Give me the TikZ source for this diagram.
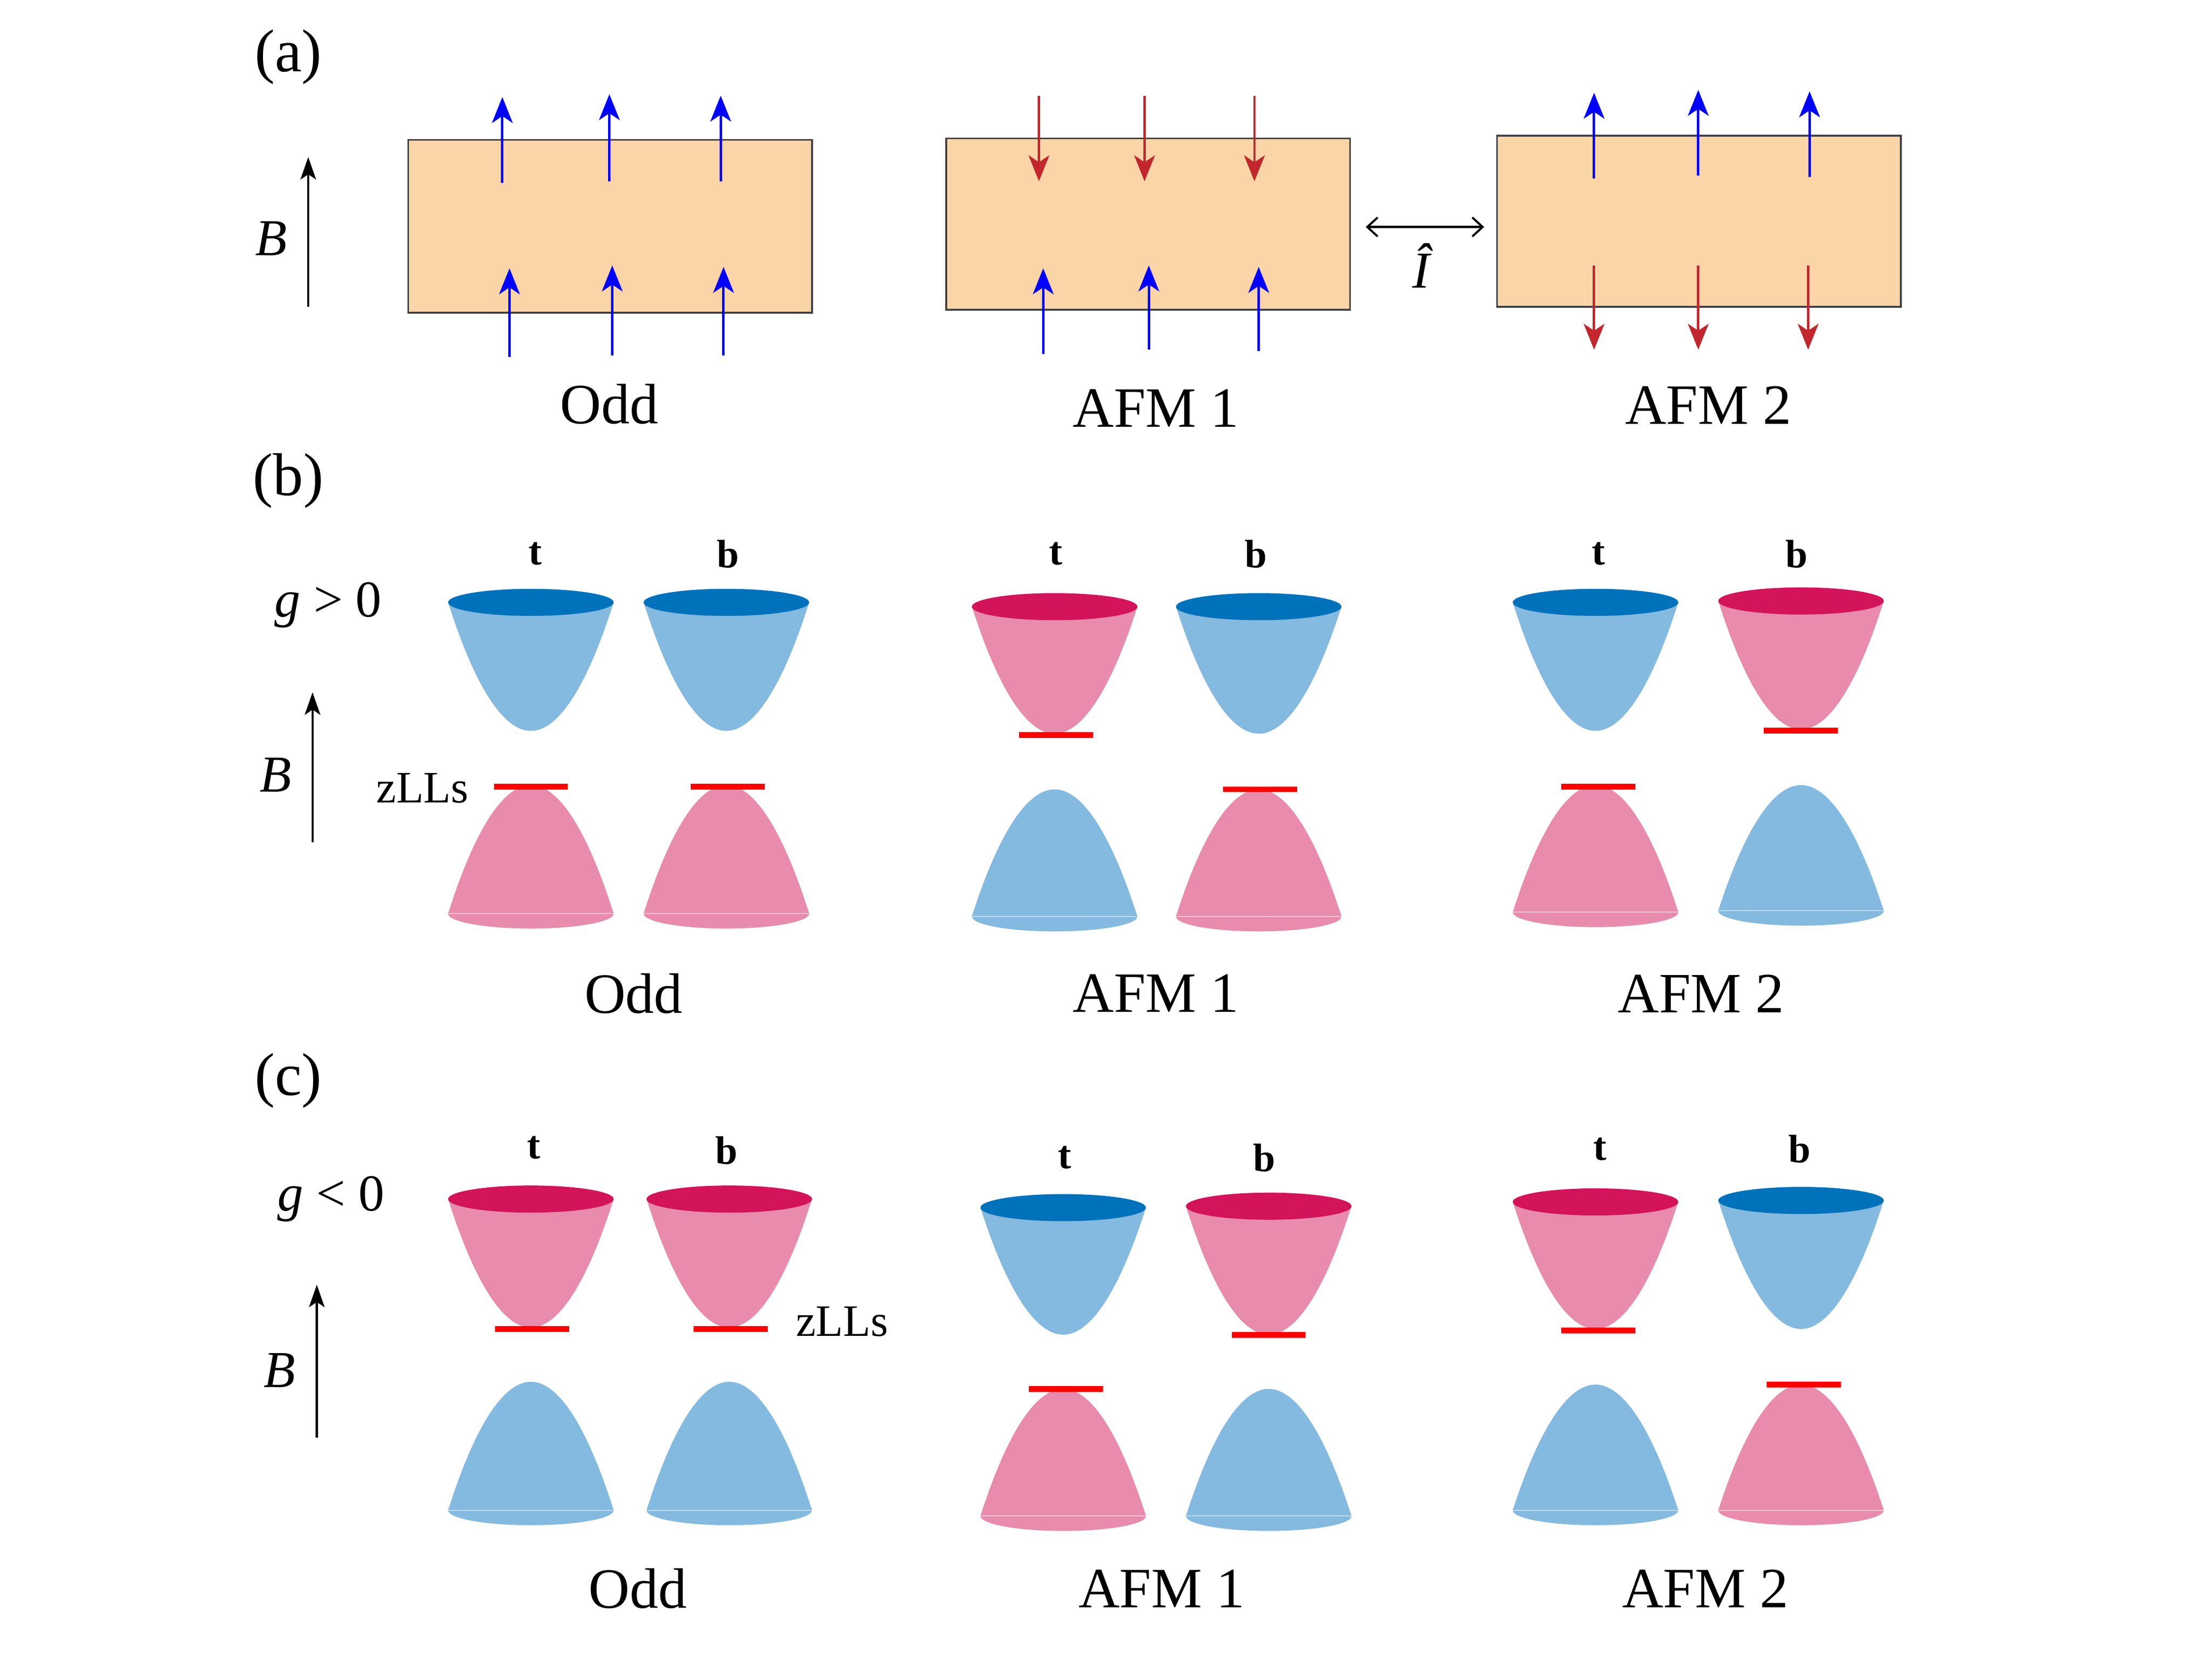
\documentclass[tikz,border=0pt]{standalone}
\usepackage{fontspec}
\setmainfont{Liberation Serif}
\usetikzlibrary{arrows.meta}
\definecolor{cbl}{RGB}{132,186,223}
\definecolor{cbd}{RGB}{0,114,188}
\definecolor{cpl}{RGB}{233,139,172}
\definecolor{cpd}{RGB}{211,20,90}
\definecolor{slabfill}{RGB}{251,213,168}
\definecolor{slabline}{RGB}{64,64,64}
\definecolor{spinblue}{RGB}{0,0,255}
\definecolor{spinred}{RGB}{193,39,45}
\definecolor{zllred}{RGB}{255,0,0}
\newcommand\fsz[1]{\fontsize{#1}{#1}\selectfont}
\newcommand\ConeUp[5]{%
  \fill[#4] (#1-58,#2) parabola bend (#1,#3) (#1+58,#2) -- cycle;
  \fill[#5] (#1,#2) ellipse [x radius=58, y radius=9.5];
}
\newcommand\ConeDown[4]{%
  \fill[#4] (#1,#3) ellipse [x radius=58, y radius=10.5];
  \fill[#4] (#1-58,#3) parabola bend (#1,#2) (#1+58,#3) -- cycle;
  \draw[white, opacity=0.5, line width=0.5pt] (#1-58,#3) -- (#1+58,#3);
}
\newcommand\ZLL[2]{\draw[zllbar] (#1-26,#2) -- (#1+26,#2);}
\begin{document}
\begin{tikzpicture}[x=0.029032cm, y=-0.029032cm,
  slab/.style={fill=slabfill, draw=slabline, line width=1pt},
  spinb/.style={spinblue, line width=1.4pt, -{Stealth[length=15pt,width=12pt,inset=4pt]}},
  spinr/.style={spinred, line width=1.4pt, -{Stealth[length=15pt,width=12pt,inset=4pt]}},
  field/.style={black, line width=1.2pt, -{Stealth[length=13pt,width=9pt,inset=3pt]}},
  dbl/.style={black, line width=1.2pt, {Straight Barb[length=6pt,width=11pt]}-{Straight Barb[length=6pt,width=11pt]}},
  zllbar/.style={zllred, line width=3.4pt},
  lbl/.style={inner sep=0pt, font=\fsz{33pt}},
  plbl/.style={inner sep=0pt, font=\fsz{35pt}},
  mlbl/.style={inner sep=0pt, font=\fsz{30pt}},
  tb/.style={inner sep=0pt, font=\fsz{23pt}\bfseries},
  zl/.style={inner sep=0pt, font=\fsz{26pt}}]
\useasboundingbox (0,0) rectangle (1550,1158.6);

% ---------------- (a) ----------------
\node[plbl] (la) at (202,40) {(a)};
\draw[field] (216,215) -- (216,110);
\node[mlbl] (Ba) at (190,167) {\textit{B}};

\draw[slab] (286,98) rectangle (569,219);
\draw[spinb] (352,128) -- (352,68);
\draw[spinb] (427,127) -- (427,66);
\draw[spinb] (505,127) -- (505,67);
\draw[spinb] (357,250) -- (357,188);
\draw[spinb] (429,249) -- (429,186);
\draw[spinb] (507,249) -- (507,187);
\node[lbl] (oa) at (427,283) {Odd};

\draw[slab] (663,97) rectangle (946,217);
\draw[spinr] (728,67) -- (728,127);
\draw[spinr] (802,67) -- (802,127);
\draw[spinr] (879,67) -- (879,127);
\draw[spinb] (731,248) -- (731,188);
\draw[spinb] (805,245) -- (805,186);
\draw[spinb] (882,246) -- (882,187);
\node[lbl] (a1a) at (810,286) {AFM 1};

\coordinate (il) at (957,159);
\coordinate (ir) at (1040,159);
\draw[dbl] (il) -- (ir);
\node[mlbl] (Ihat) at (997,186) {\textit{Î}};

\draw[slab] (1049,95) rectangle (1332,215);
\draw[spinb] (1117,125) -- (1117,65);
\draw[spinb] (1190,123) -- (1190,63);
\draw[spinb] (1268,124) -- (1268,64);
\draw[spinr] (1117,186) -- (1117,245);
\draw[spinr] (1190,186) -- (1190,245);
\draw[spinr] (1267,186) -- (1267,245);
\node[lbl] (a2a) at (1197,284) {AFM 2};

% ---------------- (b) ----------------
\node[plbl] (lb) at (202,337) {(b)};
\node[mlbl] (gb) at (230,424) {\textit{g} > 0};
\draw[field] (219,590) -- (219,485);
\node[mlbl] (Bb) at (193,543) {\textit{B}};
\node[zl] (zb) at (296,552) {zLLs};

\node[tb] (tb1) at (375,388) {t};
\node[tb] (bb1) at (510,388) {b};
\node[tb] (tb2) at (740,388) {t};
\node[tb] (bb2) at (880,388) {b};
\node[tb] (tb3) at (1120,388) {t};
\node[tb] (bb3) at (1259,388) {b};

\ConeUp{372}{422}{512}{cbl}{cbd}
\ConeDown{372}{550}{640}{cpl}
\ZLL{372}{551}
\ConeUp{509}{422}{512}{cbl}{cbd}
\ConeDown{509}{550}{640}{cpl}
\ZLL{510}{551}

\ConeUp{739}{425}{514}{cpl}{cpd}
\ConeDown{739}{553}{642}{cbl}
\ZLL{740}{515}
\ConeUp{882}{425}{514}{cbl}{cbd}
\ConeDown{882}{553}{642}{cpl}
\ZLL{883}{553}

\ConeUp{1118}{422}{512}{cbl}{cbd}
\ConeDown{1118}{550}{639}{cpl}
\ZLL{1120}{551}
\ConeUp{1262}{421}{511}{cpl}{cpd}
\ConeDown{1262}{550}{638}{cbl}
\ZLL{1262}{512}

\node[lbl] (ob) at (444,696) {Odd};
\node[lbl] (a1b) at (810,696) {AFM 1};
\node[lbl] (a2b) at (1192,696) {AFM 2};

% ---------------- (c) ----------------
\node[plbl] (lc) at (202,757) {(c)};
\node[mlbl] (gc) at (232,840) {\textit{g} < 0};
\draw[field] (222,1007) -- (222,900);
\node[mlbl] (Bc) at (196,960) {\textit{B}};
\node[zl] (zc) at (590,926) {zLLs};

\node[tb] (tc1) at (374,804) {t};
\node[tb] (bc1) at (509,806) {b};
\node[tb] (tc2) at (746,811) {t};
\node[tb] (bc2) at (886,811) {b};
\node[tb] (tc3) at (1121,805) {t};
\node[tb] (bc3) at (1261,805) {b};

\ConeUp{372}{840}{930}{cpl}{cpd}
\ConeDown{372}{968}{1058}{cbl}
\ZLL{373}{931}
\ConeUp{511}{840}{930}{cpl}{cpd}
\ConeDown{511}{968}{1058}{cbl}
\ZLL{512}{931}

\ConeUp{745}{846}{935}{cbl}{cbd}
\ConeDown{745}{973}{1062}{cpl}
\ZLL{747}{973}
\ConeUp{889}{845}{935}{cpl}{cpd}
\ConeDown{889}{973}{1062}{cbl}
\ZLL{889}{935}

\ConeUp{1118}{842}{931}{cpl}{cpd}
\ConeDown{1118}{970}{1058}{cbl}
\ZLL{1120}{932}
\ConeUp{1262}{841}{931}{cbl}{cbd}
\ConeDown{1262}{970}{1058}{cpl}
\ZLL{1264}{970}

\node[lbl] (oc) at (447,1113) {Odd};
\node[lbl] (a1c) at (814,1113) {AFM 1};
\node[lbl] (a2c) at (1195,1113) {AFM 2};
\end{tikzpicture}
\end{document}
